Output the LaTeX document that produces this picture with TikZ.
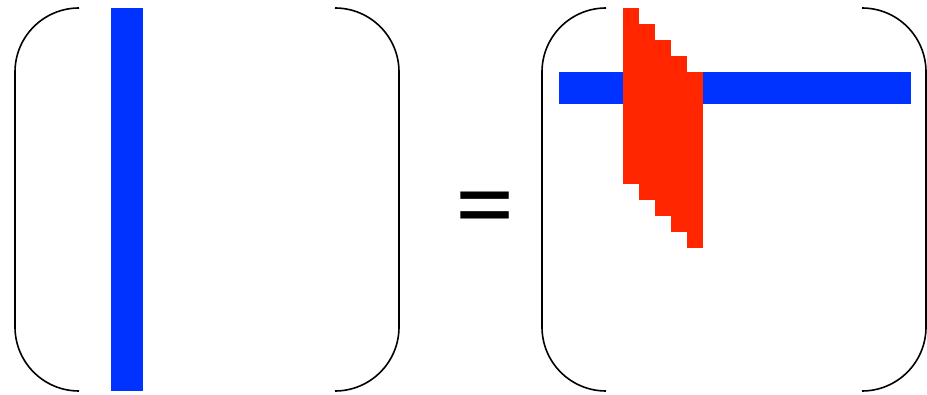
\documentclass[tikz,border=0pt]{standalone}
\usepackage{fontspec}
\setmainfont{TeX Gyre Heros}
\usetikzlibrary{positioning}
\definecolor{vecblue}{RGB}{0,51,255}
\definecolor{bandred}{RGB}{255,38,0}
\newcommand{\drawparens}[1]{\draw[paren] ({#1+64},8) -- (#1,8) -- (#1,391) -- ({#1+64},391);
\draw[paren] ({#1+320},8) -- ({#1+384},8) -- ({#1+384},391) -- ({#1+320},391);}

\begin{document}
\begin{tikzpicture}[x=1pt,y=-1pt,paren/.style={line width=1.6pt,rounded corners=64pt}]
\useasboundingbox (0,0) rectangle (927,395);
% left side: one column
\fill[vecblue] (111,8) rectangle (143,391);
\drawparens{15}
\node[font=\fontsize{108}{108}\selectfont,inner sep=0pt,anchor=base] (eq) at (485.2,232.3) {=};
% right side: one row, then the band on top
\fill[vecblue] (559,72) rectangle (911,104);
\foreach \k in {0,...,4}{
  \fill[bandred] ({623+16*\k},{8+16*\k}) rectangle ({639+16*\k},{184+16*\k});
}
\drawparens{542}
\end{tikzpicture}
\end{document}
